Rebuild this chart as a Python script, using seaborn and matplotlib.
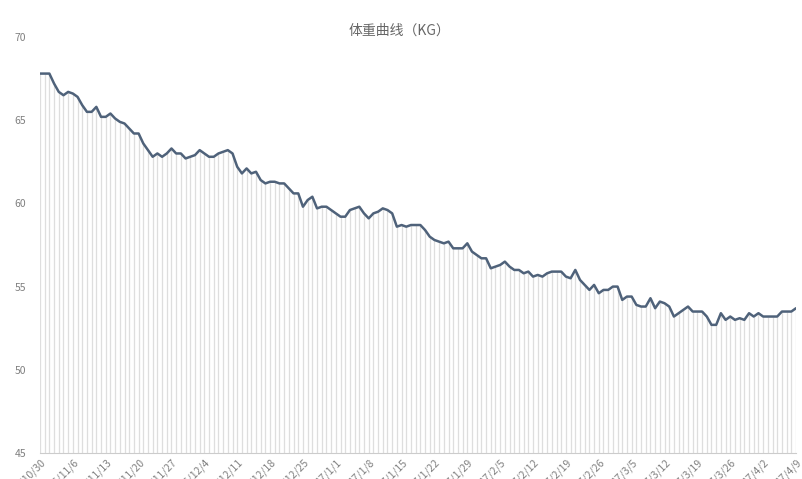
import pandas as pd
import matplotlib
matplotlib.use("Agg")
import matplotlib.pyplot as plt
import seaborn as sns

TITLE = "体重曲线（KG）"
START_DATE = "2016-10-30"
END_DATE = "2017-04-09"
Y_TICKS = [45, 50, 55, 60, 65, 70]

# daily weight, 2016/10/30 .. 2017/4/9 (162 days)
WEIGHTS = [
    67.8, 67.8, 67.8, 67.2, 66.7, 66.5, 66.7, 66.6, 66.4, 65.9,
    65.5, 65.5, 65.8, 65.2, 65.2, 65.4, 65.1, 64.9, 64.8, 64.5,
    64.2, 64.2, 63.6, 63.2, 62.8, 63.0, 62.8, 63.0, 63.3, 63.0,
    63.0, 62.7, 62.8, 62.9, 63.2, 63.0, 62.8, 62.8, 63.0, 63.1,
    63.2, 63.0, 62.2, 61.8, 62.1, 61.8, 61.9, 61.4, 61.2, 61.3,
    61.3, 61.2, 61.2, 60.9, 60.6, 60.6, 59.8, 60.2, 60.4, 59.7,
    59.8, 59.8, 59.6, 59.4, 59.2, 59.2, 59.6, 59.7, 59.8, 59.4,
    59.1, 59.4, 59.5, 59.7, 59.6, 59.4, 58.6, 58.7, 58.6, 58.7,
    58.7, 58.7, 58.4, 58.0, 57.8, 57.7, 57.6, 57.7, 57.3, 57.3,
    57.3, 57.6, 57.1, 56.9, 56.7, 56.7, 56.1, 56.2, 56.3, 56.5,
    56.2, 56.0, 56.0, 55.8, 55.9, 55.6, 55.7, 55.6, 55.8, 55.9,
    55.9, 55.9, 55.6, 55.5, 56.0, 55.4, 55.1, 54.8, 55.1, 54.6,
    54.8, 54.8, 55.0, 55.0, 54.2, 54.4, 54.4, 53.9, 53.8, 53.8,
    54.3, 53.7, 54.1, 54.0, 53.8, 53.2, 53.4, 53.6, 53.8, 53.5,
    53.5, 53.5, 53.2, 52.7, 52.7, 53.4, 53.0, 53.2, 53.0, 53.1,
    53.0, 53.4, 53.2, 53.4, 53.2, 53.2, 53.2, 53.2, 53.5, 53.5,
    53.5, 53.7,
]

dates = pd.date_range(START_DATE, END_DATE, freq="D")
df = pd.DataFrame({"day": range(len(dates)), "weight": WEIGHTS})
labels = [f"{d.year % 100}/{d.month}/{d.day}" for d in dates]

sns.set_style("white")
plt.rcParams["font.family"] = ["Noto Sans CJK SC", "DejaVu Sans"]

fig = plt.figure(figsize=(8.03, 4.79), dpi=100)
ax = fig.add_axes([0.0498, 0.0543, 0.9415, 0.8685])

# thin drop lines under the curve
ax.vlines(df["day"], Y_TICKS[0], df["weight"], color="#dedede", linewidth=0.9, zorder=1)
sns.lineplot(data=df, x="day", y="weight", ax=ax, color="#4f627a", linewidth=1.8, zorder=3)

ax.set_xlim(0, len(dates) - 1)
ax.set_ylim(45, 70)
ax.set_yticks(Y_TICKS)
ax.set_yticklabels([str(v) for v in Y_TICKS], fontsize=7.5, color="#808080")
tick_pos = df["day"][::7]
ax.set_xticks(tick_pos)
ax.set_xticklabels([labels[i] for i in tick_pos], rotation=45, ha="right",
                   rotation_mode="anchor", fontsize=7.5, color="#808080")
ax.tick_params(axis="y", length=0, pad=10)
ax.tick_params(axis="x", length=0, pad=3)
ax.set_xlabel("")
ax.set_ylabel("")
for side in ["top", "left", "right"]:
    ax.spines[side].set_visible(False)
ax.spines["bottom"].set_color("#cccccc")
ax.spines["bottom"].set_linewidth(0.8)

fig.text(0.497, 0.935, TITLE, ha="center", va="center", fontsize=10, color="#666666")

fig.savefig("out.png", dpi=100)
